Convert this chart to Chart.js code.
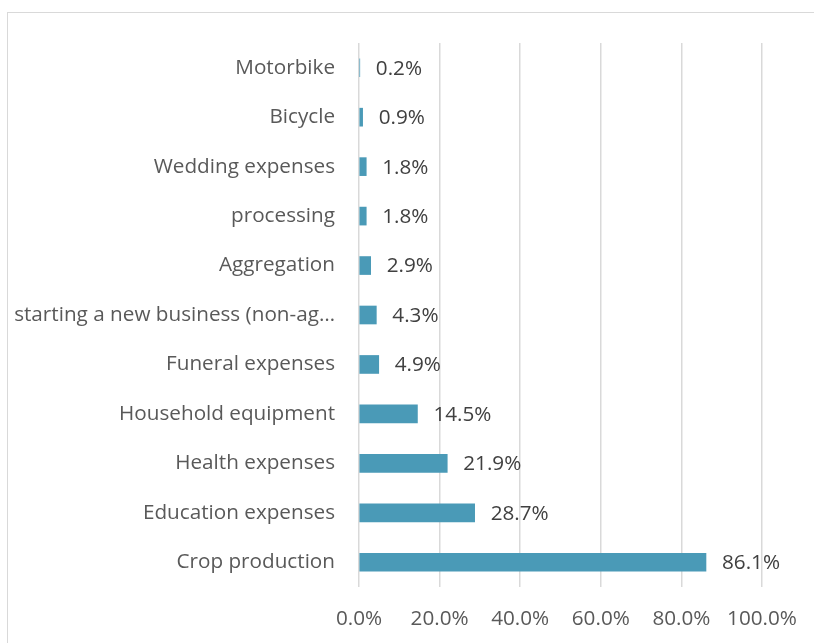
<!DOCTYPE html>
<html lang="en">
<head>
    <meta charset="UTF-8">
    <title>Use of loans</title>
    <script src="https://cdn.jsdelivr.net/npm/chart.js"></script>
    <style>
        body { margin: 0; background: #fff; overflow: hidden; }
        #frame { position: absolute; left: 7px; top: 12px; width: 830px; height: 660px; border: 1px solid #d9d9d9; }
        #wrap { position: absolute; left: 0; top: 0; width: 814px; height: 643px; }
    </style>
</head>
<body>
    <div id="frame"></div>
    <div id="wrap"><canvas id="chart" width="814" height="643"></canvas></div>
    <script>
        const categories = [
            "Motorbike",
            "Bicycle",
            "Wedding expenses",
            "processing",
            "Aggregation",
            "starting a new business (non-agricultural)",
            "Funeral expenses",
            "Household equipment",
            "Health expenses",
            "Education expenses",
            "Crop production"
        ];
        const shares = [0.002, 0.009, 0.018, 0.018, 0.029, 0.043, 0.049, 0.145, 0.219, 0.287, 0.861];
        const tickValues = [0, 0.2, 0.4, 0.6, 0.8, 1.0];

        const fontFamily = "'Open Sans', sans-serif";
        const fontSize = 20.7;
        const textColor = '#595959';

        // label angka di ujung batang
        const valueLabels = {
            id: 'valueLabels',
            afterDatasetsDraw(chart) {
                const ctx = chart.ctx;
                const meta = chart.getDatasetMeta(0);
                ctx.save();
                ctx.font = fontSize + "px " + fontFamily;
                ctx.fillStyle = '#404040';
                ctx.textAlign = 'left';
                ctx.textBaseline = 'middle';
                meta.data.forEach((bar, i) => {
                    const v = shares[i] * 100;
                    ctx.fillText(v.toFixed(1) + '%', bar.x + 16, bar.y + 1);
                });
                ctx.restore();
            }
        };

        new Chart(document.getElementById('chart'), {
            type: 'bar',
            data: {
                labels: categories,
                datasets: [{
                    data: shares,
                    backgroundColor: '#4a9ab7',
                    barThickness: 18
                }]
            },
            options: {
                indexAxis: 'y',
                responsive: false,
                animation: false,
                layout: { padding: { top: 43, right: 52, left: 0, bottom: 0 } },
                plugins: { legend: { display: false }, tooltip: { enabled: false } },
                scales: {
                    x: {
                        min: 0,
                        max: 1,
                        afterFit: s => { s.height = 56; s.paddingLeft = 0; s.paddingRight = 0; },
                        afterBuildTicks: s => { s.ticks = tickValues.map(v => ({ value: v })); },
                        grid: { color: '#d9d9d9', lineWidth: 1.5, drawTicks: false },
                        border: { display: false },
                        ticks: {
                            padding: 20,
                            color: textColor,
                            font: { family: fontFamily, size: fontSize },
                            callback: v => (v * 100).toFixed(1) + '%'
                        }
                    },
                    y: {
                        afterFit: s => { s.width = 359; },
                        grid: { display: false, drawTicks: false },
                        border: { display: false },
                        ticks: {
                            padding: 24,
                            color: textColor,
                            font: { family: fontFamily, size: fontSize },
                            callback: function (v) {
                                const t = this.getLabelForValue(v);
                                return t.length > 31 ? t.slice(0, 31) + '…' : t;
                            }
                        }
                    }
                }
            },
            plugins: [valueLabels]
        });
    </script>
</body>
</html>
